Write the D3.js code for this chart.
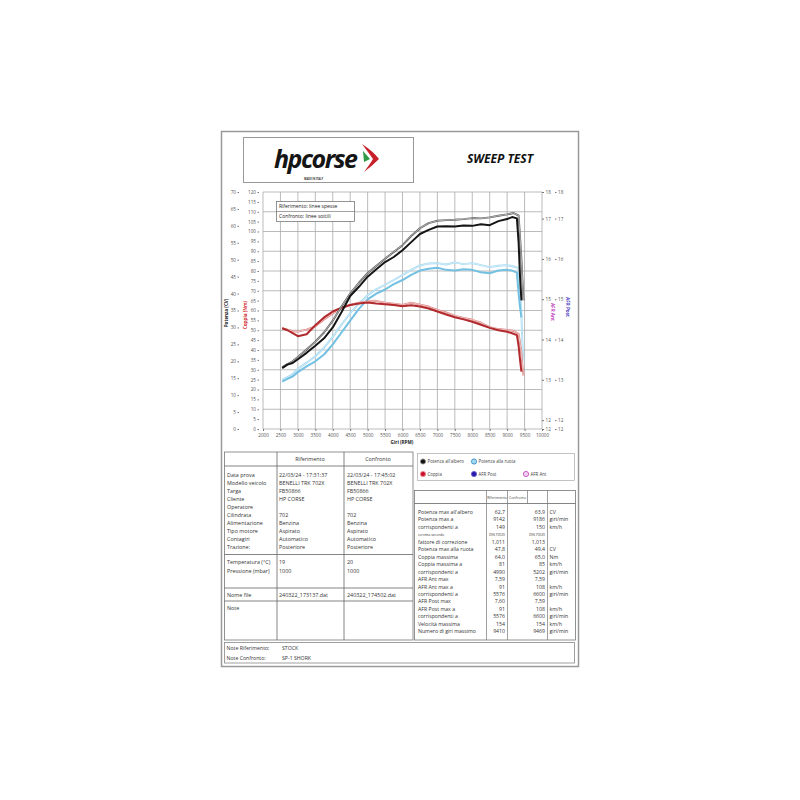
<!DOCTYPE html>
<html><head><meta charset="utf-8">
<script src="https://cdn.jsdelivr.net/npm/d3@7/dist/d3.min.js"></script>
<style>
body{margin:0;background:#fff;}
svg text{font-family:"Open Sans","DejaVu Sans",sans-serif;}
</style></head>
<body><svg id="c" width="800" height="800"></svg>
<script>
// ---------- DATA ----------
const rpmTicks = d3.range(2000, 10001, 500);
const powerTicks = d3.range(0, 71, 5);
const torqueTicks = d3.range(0, 121, 5);
const afrTicks = [11.78, 12, 13, 14, 15, 16, 17, 17.66];

const rpmRef = [2550,2700,2850,3000,3250,3500,3750,4000,4250,4500,4750,5000,5250,5500,5750,6000,6250,6500,6750,7000,7250,7500,7750,8000,8250,8500,8750,9000,9142,9280,9330,9370,9410];
const powerRef = [18.0,19.0,19.5,20.6,22.5,24.6,26.8,30.0,34.5,39.3,42.0,45.0,47.2,49.3,50.8,52.8,55.2,57.6,58.8,59.8,59.9,59.8,60.1,60.0,60.5,60.2,61.4,62.0,62.6,62.2,55.0,45.0,38.0];
const wheelRef = [14.0,14.8,15.5,16.8,18.5,20.0,22.0,25.0,28.5,32.0,35.5,38.3,40.0,41.2,42.8,44.0,45.5,46.8,47.3,47.6,47.0,46.8,47.2,47.0,46.3,46.0,46.8,47.0,46.8,46.2,40.0,36.0,33.0];
const torqueRef = [51.0,50.0,48.5,47.0,48.0,52.5,56.5,59.5,61.5,62.8,63.5,64.0,63.5,63.2,62.8,62.2,62.6,62.0,61.0,59.5,58.0,56.6,55.5,54.3,52.8,51.2,50.0,49.2,48.5,47.5,42.0,35.0,29.0];

const rpmConf = [2550,2700,2850,3000,3250,3500,3750,4000,4250,4500,4750,5000,5202,5500,5750,6000,6250,6500,6750,7000,7250,7500,7750,8000,8250,8500,8750,9000,9186,9330,9400,9440,9469];
const powerConf = [18.2,19.2,20.0,21.3,23.5,25.8,28.5,32.0,36.2,40.0,43.2,46.0,47.8,50.3,52.3,54.3,57.0,59.3,60.8,61.5,61.7,61.8,62.0,62.3,62.2,62.5,63.0,63.4,63.8,63.0,52.0,44.0,38.0];
const wheelConf = [14.5,15.3,16.2,17.8,19.6,21.5,24.0,27.2,30.8,34.2,37.0,39.5,41.0,42.6,44.0,45.5,47.0,48.3,48.9,49.0,48.6,49.2,48.7,49.0,48.4,47.8,48.2,48.4,48.0,47.5,36.0,25.0,20.0];
const torqueConf = [51.0,50.3,49.5,49.3,50.3,52.0,55.5,58.5,61.0,62.8,64.0,64.6,65.0,64.0,63.5,62.8,64.0,63.0,62.0,60.3,59.0,57.3,56.2,55.3,53.8,51.6,50.6,50.2,49.6,48.2,40.0,32.0,27.0];

const infoLabels = ["Data prova","Modello veicolo","Targa","Cliente","Operatore","Cilindrata","Alimentazione","Tipo motore","Contagiri","Trazione:"];
const infoRef = ["22/03/24 - 17:31:37","BENELLI TRK 702X","FB50866","HP CORSE","","702","Benzina","Aspirato","Automatico","Posteriore"];
const infoConf = ["22/03/24 - 17:45:02","BENELLI TRK 702X","FB50866","HP CORSE","","702","Benzina","Aspirato","Automatico","Posteriore"];
const envLabels = ["Temperatura (°C)","Pressione (mbar)"];
const envRef = ["19","1000"];
const envConf = ["20","1000"];
const fileRef = "240322_173137.dat";
const fileConf = "240322_174502.dat";

const resLabels = ["Potenza max all'albero","Potenza max a","corrispondenti a","corretta secondo","fattore di correzione","Potenza max alla ruota","Coppia massima","Coppia massima a","corrispondenti a","AFR Ant max","AFR Ant max a","corrispondenti a","AFR Post max","AFR Post max a","corrispondenti a","Velocità massima","Numero di giri massimo"];
const resRef = ["62,7","9142","149","DIN 70020","1,011","47,8","64,0","81","4990","7,59","91","5576","7,60","91","5576","154","9410"];
const resConf = ["63,9","9186","150","DIN 70020","1,013","49,4","65,0","85","5202","7,59","108","6600","7,59","108","6600","154","9469"];
const resUnits = ["CV","giri/min","km/h","","","CV","Nm","km/h","giri/min","","km/h","giri/min","","km/h","giri/min","km/h","giri/min"];

const legendItems = [
  {label:"Potenza all'albero", fill:"#111", stroke:"#999", col:0, row:0},
  {label:"Potenza alla ruota", fill:"#9fd8f2", stroke:"#3c8fc4", col:1, row:0},
  {label:"Coppia", fill:"#c8102e", stroke:"#ef8a8a", col:0, row:1},
  {label:"AFR Post", fill:"#2a1aa8", stroke:"#6a60d0", col:1, row:1},
  {label:"AFR Ant", fill:"#f5d0f5", stroke:"#c050c0", col:2, row:1}
];

// ---------- DRAW ----------
const svg = d3.select("#c");
const g = svg.append("g");

// page border
g.append("rect").attr("x",221.5).attr("y",131.5).attr("width",357).attr("height",535)
  .attr("fill","#fff").attr("stroke","#999").attr("stroke-width",1.5);

// logo box
g.append("rect").attr("x",243.5).attr("y",137.5).attr("width",170).attr("height",45)
  .attr("fill","#fff").attr("stroke","#999").attr("stroke-width",1);
g.append("text").attr("x",274).attr("y",168).attr("font-family","Liberation Sans, Arial, sans-serif")
  .attr("font-weight","bold").attr("font-style","italic").attr("font-size",25).attr("letter-spacing",-1.5)
  .attr("fill","#151515").text("hpcorse");
g.append("text").attr("x",304).attr("y",180).attr("font-size",2.6).attr("font-weight","bold").attr("fill","#333").text("MADE IN ITALY");
g.append("path").attr("d","M362,144 Q374,152 379,159 Q372,166 364,172 Q370,164 373,159 Q368,152 362,144 Z").attr("fill","#c8202a");
g.append("path").attr("d","M363,151 L370,159 L364,162 Z").attr("fill","#2e9a45");

g.append("text").attr("x",500).attr("y",163).attr("text-anchor","middle")
  .attr("font-family","Liberation Sans, Arial, sans-serif").attr("font-weight","bold").attr("font-style","italic")
  .attr("font-size",12).attr("fill","#111").text("SWEEP TEST");

// scales
const x = d3.scaleLinear().domain([2000,10000]).range([263,542]);
const yP = d3.scaleLinear().domain([0,70]).range([429,192]);
const yT = d3.scaleLinear().domain([0,120]).range([429,192]);
const yA = d3.scaleLinear().domain([11.78,17.66]).range([429,192]);

// grid
const grid = g.append("g").attr("stroke","#aaa").attr("stroke-width",0.8);
rpmTicks.forEach(r=>grid.append("line").attr("x1",x(r)).attr("x2",x(r)).attr("y1",yT(0)).attr("y2",yT(120)));
d3.range(0,121,10).forEach(t=>grid.append("line").attr("x1",x(2000)).attr("x2",x(10000)).attr("y1",yT(t)).attr("y2",yT(t)));

function styleAxis(sel){
  sel.select(".domain").remove();
  sel.selectAll(".tick line").attr("stroke","#777");
  sel.selectAll(".tick text").attr("font-size",4.6).attr("fill","#555");
}
g.append("g").attr("transform","translate(0,429)")
  .call(d3.axisBottom(x).tickValues(rpmTicks).tickSize(2).tickPadding(3).tickFormat(d3.format("d")))
  .call(styleAxis);
g.append("g").attr("transform","translate(239,0)")
  .call(d3.axisLeft(yP).tickValues(powerTicks).tickSize(1.5).tickPadding(1.5))
  .call(styleAxis);
g.append("g").attr("transform","translate(259,0)")
  .call(d3.axisLeft(yT).tickValues(torqueTicks).tickSize(1.5).tickPadding(1.5))
  .call(styleAxis);
g.append("g").attr("transform","translate(542,0)")
  .call(d3.axisRight(yA).tickValues(afrTicks).tickSize(2).tickPadding(1.5).tickFormat(d3.format(".0f")))
  .call(styleAxis);
g.append("g").attr("transform","translate(555,0)")
  .call(d3.axisRight(yA).tickValues(afrTicks).tickSize(1.5).tickPadding(1.5).tickFormat(d3.format(".0f")))
  .call(styleAxis);

// axis titles
g.append("text").attr("transform","translate(227.5,313) rotate(-90)").attr("text-anchor","middle")
  .attr("font-size",4.6).attr("font-weight","bold").attr("fill","#222").text("Potenza (CV)");
g.append("text").attr("transform","translate(246.5,315) rotate(-90)").attr("text-anchor","middle")
  .attr("font-size",4.6).attr("font-weight","bold").attr("fill","#d03030").text("Coppia (Nm)");
g.append("text").attr("transform","translate(551,312) rotate(90)").attr("text-anchor","middle")
  .attr("font-size",4.6).attr("font-weight","bold").attr("fill","#c040c0").text("AFR Ant");
g.append("text").attr("transform","translate(566,307) rotate(90)").attr("text-anchor","middle")
  .attr("font-size",4.6).attr("font-weight","bold").attr("fill","#4a3ac0").text("AFR Post");
g.append("text").attr("x",402).attr("y",444).attr("text-anchor","middle")
  .attr("font-size",4.6).attr("font-weight","bold").attr("fill","#222").text("Giri (RPM)");

// curves
function drawLine(rpms, vals, ys, color, thick){
  const line = d3.line().x((d,i)=>x(rpms[i])).y(d=>ys(d));
  if(thick){
    g.append("path").attr("d",line(vals)).attr("fill","none").attr("stroke",color).attr("stroke-width",2).attr("stroke-linejoin","round");
  } else {
    g.append("path").attr("d",line(vals)).attr("fill","none").attr("stroke",color).attr("stroke-width",1.9).attr("stroke-linejoin","round");
    g.append("path").attr("d",line(vals)).attr("fill","none").attr("stroke","#fff").attr("stroke-width",0.7).attr("stroke-linejoin","round").attr("opacity",0.8);
  }
}
drawLine(rpmConf, wheelConf, yP, "#9ad6f0", false);
drawLine(rpmRef, wheelRef, yP, "#72c0e2", true);
drawLine(rpmConf, torqueConf, yT, "#dc7878", false);
drawLine(rpmRef, torqueRef, yT, "#b02a2e", true);
drawLine(rpmConf, powerConf, yP, "#555", false);
drawLine(rpmRef, powerRef, yP, "#151515", true);

// plot legend
const pl = g.append("g");
pl.append("rect").attr("x",276.5).attr("y",201.5).attr("width",78).attr("height",20).attr("fill","#fff").attr("stroke","#666").attr("stroke-width",0.7);
pl.append("line").attr("x1",276.5).attr("x2",354.5).attr("y1",211.5).attr("y2",211.5).attr("stroke","#666").attr("stroke-width",0.6);
pl.append("text").attr("x",279).attr("y",208.3).attr("font-size",5).attr("fill","#222").text("Riferimento: linee spesse");
pl.append("text").attr("x",279).attr("y",218.3).attr("font-size",5).attr("fill","#222").text("Confronto: linee sottili");

// left info table
const lt = g.append("g");
const L = {x0:224.5, x1:413, c1:277, c2:344, y0:452, y1:640};
lt.append("rect").attr("x",L.x0).attr("y",L.y0).attr("width",L.x1-L.x0).attr("height",L.y1-L.y0).attr("fill","none").attr("stroke","#777").attr("stroke-width",0.8);
[L.c1, L.c2].forEach(cx=>lt.append("line").attr("x1",cx).attr("x2",cx).attr("y1",L.y0).attr("y2",L.y1).attr("stroke","#666").attr("stroke-width",0.8));
[466, 554.5, 588, 601].forEach(yy=>lt.append("line").attr("x1",L.x0).attr("x2",L.x1).attr("y1",yy).attr("y2",yy).attr("stroke","#666").attr("stroke-width",0.8));
lt.append("text").attr("x",310).attr("y",461).attr("text-anchor","middle").attr("font-size",5.4).attr("fill","#333").text("Riferimento");
lt.append("text").attr("x",378).attr("y",461).attr("text-anchor","middle").attr("font-size",5.4).attr("fill","#333").text("Confronto");
const ft = 5.4;
infoLabels.forEach((lab,i)=>{
  const yy = 476.5 + i*8.1;
  lt.append("text").attr("x",227).attr("y",yy).attr("font-size",ft).attr("fill","#333").text(lab);
  lt.append("text").attr("x",279).attr("y",yy).attr("font-size",ft).attr("fill","#333").text(infoRef[i]);
  lt.append("text").attr("x",347).attr("y",yy).attr("font-size",ft).attr("fill","#333").text(infoConf[i]);
});
envLabels.forEach((lab,i)=>{
  const yy = 564 + i*8.5;
  lt.append("text").attr("x",227).attr("y",yy).attr("font-size",ft).attr("fill","#333").text(lab);
  lt.append("text").attr("x",279).attr("y",yy).attr("font-size",ft).attr("fill","#333").text(envRef[i]);
  lt.append("text").attr("x",347).attr("y",yy).attr("font-size",ft).attr("fill","#333").text(envConf[i]);
});
lt.append("text").attr("x",227).attr("y",597).attr("font-size",ft).attr("fill","#333").text("Nome file");
lt.append("text").attr("x",279).attr("y",597).attr("font-size",ft).attr("fill","#333").text(fileRef);
lt.append("text").attr("x",347).attr("y",597).attr("font-size",ft).attr("fill","#333").text(fileConf);
lt.append("text").attr("x",227).attr("y",610).attr("font-size",ft).attr("fill","#333").text("Note");

// chart legend box
const lg = g.append("g");
lg.append("rect").attr("x",417.5).attr("y",453.5).attr("width",157).attr("height",27).attr("fill","#fff").attr("stroke","#aaa").attr("stroke-width",0.7);
const colX = [423, 474, 526];
const rowY = [461.5, 474];
legendItems.forEach(it=>{
  lg.append("circle").attr("cx",colX[it.col]).attr("cy",rowY[it.row]).attr("r",2.6).attr("fill",it.fill).attr("stroke",it.stroke).attr("stroke-width",0.9);
  lg.append("text").attr("x",colX[it.col]+4.5).attr("y",rowY[it.row]+1.6).attr("font-size",4.4).attr("fill","#444").text(it.label);
});

// right results table
const rt = g.append("g");
const R = {x0:414.5, x1:575.5, y0:490.5, y1:640, h:503.5};
rt.append("rect").attr("x",R.x0).attr("y",R.y0).attr("width",R.x1-R.x0).attr("height",R.y1-R.y0).attr("fill","none").attr("stroke","#777").attr("stroke-width",0.8);
rt.append("line").attr("x1",R.x0).attr("x2",R.x1).attr("y1",R.h).attr("y2",R.h).attr("stroke","#666").attr("stroke-width",0.8);
[486.5, 507.5, 547.5].forEach(cx=>rt.append("line").attr("x1",cx).attr("x2",cx).attr("y1",R.y0).attr("y2",R.y1).attr("stroke","#777").attr("stroke-width",0.7));
rt.append("line").attr("x1",527.5).attr("x2",527.5).attr("y1",R.y0).attr("y2",R.h).attr("stroke","#777").attr("stroke-width",0.7);
rt.append("text").attr("x",497).attr("y",498.5).attr("text-anchor","middle").attr("font-size",3.6).attr("fill","#444").text("Riferimento");
rt.append("text").attr("x",517.5).attr("y",498.5).attr("text-anchor","middle").attr("font-size",3.6).attr("fill","#444").text("Confronto");
resLabels.forEach((lab,i)=>{
  const yy = 514 + i*7.45;
  const tiny = (i===3);
  const fs = tiny ? 3.3 : 5.2;
  rt.append("text").attr("x",418).attr("y",yy).attr("font-size",fs).attr("fill","#333").text(lab);
  rt.append("text").attr("x",505).attr("y",yy).attr("text-anchor","end").attr("font-size",fs).attr("fill","#333").text(resRef[i]);
  rt.append("text").attr("x",545).attr("y",yy).attr("text-anchor","end").attr("font-size",fs).attr("fill","#333").text(resConf[i]);
  rt.append("text").attr("x",549.5).attr("y",yy).attr("font-size",fs).attr("fill","#333").text(resUnits[i]);
});

// notes box
const nb = g.append("g");
nb.append("rect").attr("x",224.5).attr("y",642.5).attr("width",350).attr("height",20.5).attr("fill","none").attr("stroke","#888").attr("stroke-width",0.8);
nb.append("text").attr("x",226.5).attr("y",650).attr("font-size",5.2).attr("fill","#333").text("Note Riferimento:");
nb.append("text").attr("x",282).attr("y",650).attr("font-size",5.2).attr("fill","#333").text("STOCK");
nb.append("text").attr("x",226.5).attr("y",659.5).attr("font-size",5.2).attr("fill","#333").text("Note Confronto:");
nb.append("text").attr("x",282).attr("y",659.5).attr("font-size",5.2).attr("fill","#333").text("SP-1 SHORK");
</script></body></html>
